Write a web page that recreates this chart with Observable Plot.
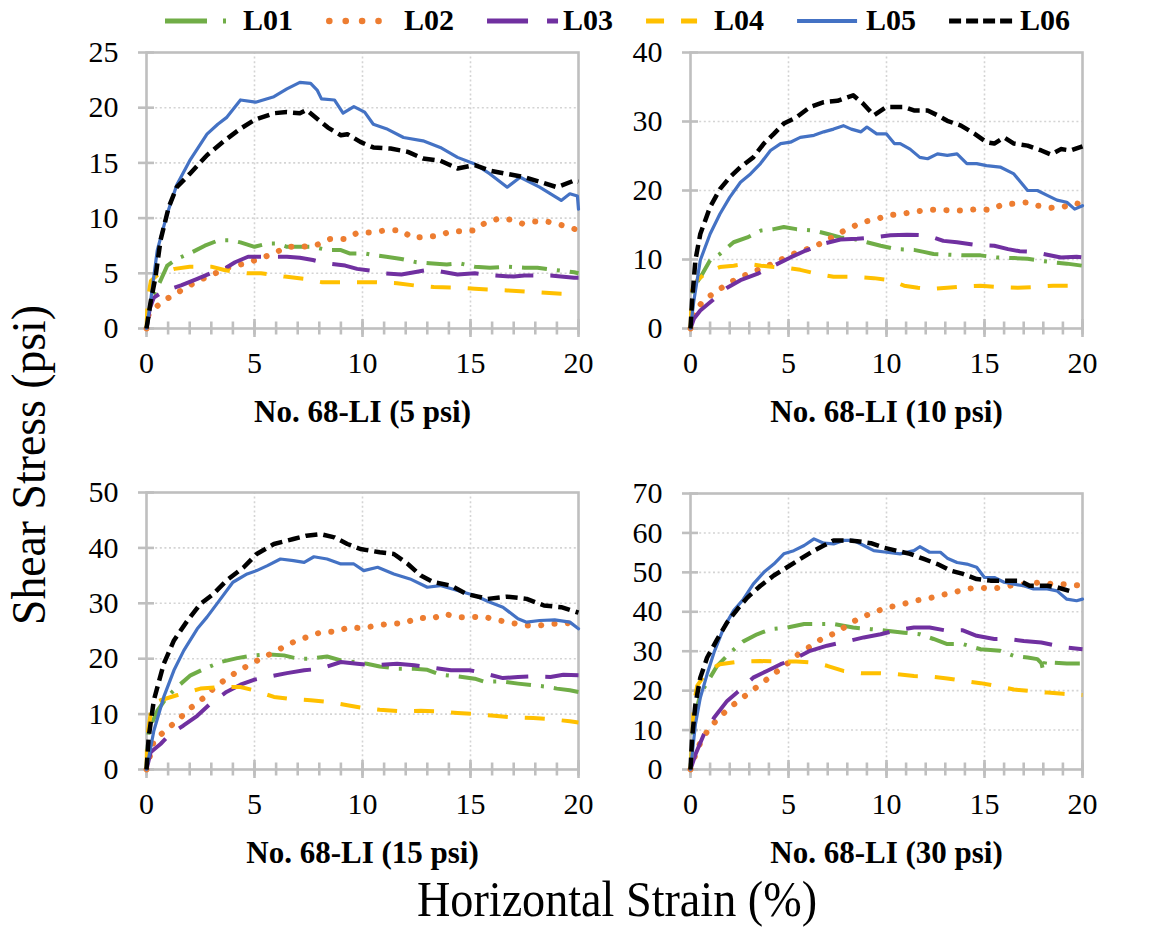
<!DOCTYPE html>
<html><head><meta charset="utf-8">
<script src="https://cdn.jsdelivr.net/npm/d3@7"></script>
<script src="https://cdn.jsdelivr.net/npm/@observablehq/plot@0.6"></script>
<style>
body{margin:0;background:#fff;}
#fig{position:relative;width:1159px;height:930px;background:#fff;overflow:hidden;}
#fig svg{position:absolute;}
</style></head><body><div id="fig"></div><script>
// ---------- data (strain %, shear stress psi) ----------
const seriesNames = ["L01","L02","L03","L04","L05","L06"];
const panelTitles = ["No. 68-LI (5 psi)","No. 68-LI (10 psi)","No. 68-LI (15 psi)","No. 68-LI (30 psi)"];
const yMaxes = [25,40,50,70];
const ySteps = [5,10,10,10];
const xTicksMajor = [0,5,10,15,20];
const xTicksMinor = [0,1,2,3,4,5,6,7,8,9,10,11,12,13,14,15,16,17,18,19,20];

// 5 psi
const P5_L01 = [[0,0],[0.2,2.5],[0.57,4.0],[0.96,5.7],[1.4,6.3],[2.0,6.8],[2.7,7.5],[3.35,8.0],[3.9,8.0],[4.35,7.8],[5.0,7.4],[5.6,7.7],[6.05,7.7],[6.5,7.4],[7.7,7.4],[8.4,7.1],[9.0,7.1],[9.4,6.8],[10.1,6.8],[10.7,6.6],[11.1,6.5],[11.8,6.3],[12.5,6.0],[13.1,5.9],[13.9,5.8],[14.5,5.9],[15.2,5.6],[15.9,5.5],[16.7,5.6],[17.5,5.5],[18.1,5.5],[18.9,5.3],[19.8,5.1],[20,5.0]];
const P5_L02 = [[0,0],[0.1,1.3],[0.7,2.4],[1.3,3.1],[2.0,3.9],[2.6,4.5],[3.3,5.1],[3.9,5.6],[4.6,5.9],[5.2,6.3],[5.9,6.8],[6.5,7.4],[7.2,7.4],[7.8,7.5],[8.5,8.1],[9.2,8.1],[9.8,8.7],[10.4,8.7],[11.1,8.9],[11.8,8.9],[12.3,8.2],[12.9,8.3],[13.5,8.4],[14.1,8.8],[14.7,8.8],[15.2,8.9],[15.7,9.6],[16.4,10.0],[17.0,9.8],[17.4,9.5],[17.9,9.7],[18.5,9.7],[19.0,9.5],[19.5,9.2],[20,8.9]];
const P5_L03 = [[0,0],[0.15,1.8],[0.34,2.8],[0.8,3.4],[1.6,3.9],[2.35,4.5],[2.96,5.0],[3.6,5.4],[4.1,6.0],[4.7,6.5],[5.3,6.5],[5.7,6.5],[6.5,6.5],[7.1,6.4],[7.7,6.2],[8.3,5.9],[9.2,5.7],[9.75,5.4],[10.5,5.2],[10.9,5.0],[11.8,4.9],[12.4,5.1],[13.0,5.3],[13.5,5.2],[14.4,4.9],[15.2,5.0],[16.1,4.8],[17.0,4.7],[17.5,4.8],[18.7,4.8],[19.8,4.6],[20,4.6]];
const P5_L04 = [[0,0],[0.05,2.5],[0.2,4.3],[0.6,5.0],[1.3,5.4],[2.0,5.6],[3.0,5.6],[3.6,5.3],[4.2,5.1],[4.7,5.0],[5.3,5.0],[6.4,4.7],[7.3,4.5],[8.1,4.2],[9.0,4.2],[9.75,4.2],[10.5,4.2],[11.6,4.1],[12.4,3.9],[13.3,3.75],[14.4,3.7],[15.2,3.6],[16.7,3.45],[17.9,3.3],[19.2,3.15],[20,3.1]];
const P5_L05 = [[0,0],[0.19,2.5],[0.5,7.1],[0.96,10.4],[1.4,13.0],[2.0,15.2],[2.8,17.6],[3.3,18.5],[3.7,19.1],[4.35,20.7],[5.05,20.5],[5.9,21.0],[6.5,21.7],[7.1,22.3],[7.6,22.2],[7.9,21.6],[8.1,20.8],[8.7,20.7],[9.1,19.5],[9.6,20.1],[10.1,19.6],[10.5,18.5],[11.1,18.1],[11.9,17.3],[12.8,17.0],[13.6,16.4],[14.4,15.5],[15.2,14.9],[15.9,14.0],[16.7,12.8],[17.3,13.7],[18.2,12.8],[19.2,11.6],[19.6,12.2],[19.95,12.0],[20,10.8]];
const P5_L06 = [[0,0],[0.2,2.5],[0.42,4.7],[0.65,8.0],[1.03,11.0],[1.4,12.8],[2.0,14.0],[2.8,15.7],[3.6,17.0],[4.35,18.1],[5.0,18.9],[5.9,19.5],[6.5,19.6],[7.1,19.5],[7.4,19.8],[7.9,19.0],[8.4,18.2],[9.0,17.5],[9.3,17.6],[9.9,16.9],[10.5,16.4],[11.3,16.3],[12.1,16.0],[12.8,15.4],[13.6,15.2],[14.4,14.5],[15.2,14.8],[15.9,14.3],[16.7,14.0],[17.5,13.7],[18.2,13.3],[19.0,12.8],[19.8,13.4],[20,13.3]];

// 10 psi
const P10_L01 = [[0,0],[0.17,6.0],[0.5,7.4],[1.0,9.9],[1.5,10.8],[2.2,12.5],[2.9,13.2],[3.6,14.2],[4.25,14.4],[4.76,14.7],[5.4,14.4],[6.3,14.2],[7.0,13.7],[7.65,13.2],[8.3,13.0],[9.0,12.5],[9.7,12.0],[10.5,11.5],[11.4,11.4],[11.9,11.1],[12.4,10.8],[13.1,10.7],[13.9,10.6],[14.8,10.6],[15.6,10.3],[16.5,10.2],[17.2,10.1],[17.9,9.8],[18.5,9.6],[19.2,9.4],[20,9.1]];
const P10_L02 = [[0,0],[0.25,2.6],[0.6,3.8],[1.2,5.2],[1.87,6.4],[2.47,7.4],[3.06,8.0],[3.74,8.9],[4.4,9.6],[5.0,10.6],[5.6,11.1],[6.2,11.8],[6.8,12.5],[7.5,13.7],[8.1,14.5],[8.76,15.4],[9.44,15.8],[10.07,16.4],[10.75,16.6],[11.4,16.9],[12.1,17.2],[12.7,17.2],[13.35,17.1],[14.0,17.1],[14.6,17.3],[15.3,17.2],[15.95,18.0],[16.6,18.1],[17.2,18.3],[17.7,17.8],[18.4,17.5],[19.0,17.6],[19.6,18.2],[20,17.9]];
const P10_L03 = [[0,0],[0.17,1.4],[0.5,2.6],[1.0,3.8],[1.87,5.9],[2.55,7.0],[3.4,7.9],[4.25,9.1],[5.1,10.3],[5.8,11.2],[6.8,12.3],[7.65,12.9],[8.5,13.0],[9.35,13.2],[10.2,13.5],[11.05,13.6],[12.1,13.5],[12.9,12.7],[13.6,12.5],[14.6,12.1],[15.5,12.0],[16.2,11.5],[16.8,11.2],[17.5,11.1],[18.2,10.7],[18.9,10.3],[19.7,10.4],[20,10.3]];
const P10_L04 = [[0,0],[0.08,5.5],[0.34,7.0],[0.85,8.2],[1.5,8.9],[2.2,9.1],[2.9,9.4],[3.6,9.1],[4.25,8.9],[4.9,8.8],[5.6,8.5],[6.5,7.9],[7.3,7.5],[8.3,7.5],[9.35,7.3],[10.2,7.0],[10.9,6.2],[11.6,5.9],[12.2,5.7],[13.1,5.9],[13.9,6.1],[14.8,6.2],[15.8,6.0],[16.7,5.9],[17.5,6.0],[18.5,6.2],[19.2,6.2],[20,6.2]];
const P10_L05 = [[0,0],[0.17,4.0],[0.5,9.9],[1.0,13.7],[1.5,16.6],[2.0,19.0],[2.55,21.2],[3.06,22.4],[3.57,23.9],[4.08,25.8],[4.6,26.8],[5.1,27.0],[5.6,27.7],[6.3,28.0],[6.8,28.5],[7.3,28.9],[7.8,29.4],[8.2,28.9],[8.7,28.5],[9.0,29.2],[9.5,28.2],[10.0,28.2],[10.4,26.8],[10.7,26.8],[11.2,26.0],[11.7,24.8],[12.1,24.6],[12.6,25.3],[13.1,25.1],[13.6,25.3],[14.1,23.9],[14.6,23.9],[15.1,23.6],[15.8,23.4],[16.5,22.4],[17.2,20.0],[17.7,20.0],[18.2,19.3],[18.7,18.6],[19.2,18.3],[19.6,17.3],[20,17.8]];
const P10_L06 = [[0,0],[0.08,4.0],[0.25,9.9],[0.5,13.7],[1.0,17.6],[1.5,20.2],[2.0,21.9],[2.55,23.4],[3.2,24.8],[3.74,26.8],[4.25,28.2],[4.76,29.7],[5.4,30.6],[6.1,32.1],[6.8,32.8],[7.5,33.0],[8.0,33.5],[8.3,33.8],[8.8,32.6],[9.35,30.9],[10.0,32.1],[10.9,32.1],[11.4,31.6],[12.1,31.6],[12.6,30.9],[13.1,30.1],[13.8,29.4],[14.5,28.2],[15.1,27.0],[15.5,26.8],[16.0,27.7],[16.5,26.8],[17.2,26.5],[17.9,25.8],[18.4,25.2],[18.9,26.0],[19.4,25.8],[20,26.4]];

// 15 psi
const P15_L01 = [[0,0],[0.1,7.0],[0.5,10.6],[0.96,13.1],[1.42,14.9],[2.04,17.0],[2.7,18.2],[3.43,19.4],[4.2,20.1],[4.97,20.6],[5.6,20.8],[6.36,20.6],[7.0,20.0],[7.6,20.0],[8.36,20.4],[9.0,19.7],[9.6,19.4],[10.2,19.1],[10.8,18.6],[11.6,18.2],[12.4,18.2],[13.0,18.0],[13.6,17.1],[14.4,16.8],[15.2,16.4],[15.6,15.9],[16.4,15.9],[17.2,15.5],[17.9,15.2],[18.4,15.0],[19.0,14.6],[19.6,14.3],[20,14.0]];
const P15_L02 = [[0,0],[0.34,5.2],[0.96,7.3],[1.5,9.1],[2.04,11.1],[2.6,12.8],[3.1,14.6],[3.7,16.4],[4.3,17.9],[4.9,19.2],[5.6,20.6],[6.2,21.8],[6.8,23.0],[7.5,24.0],[8.1,24.8],[8.75,24.9],[9.4,25.7],[9.94,25.5],[10.55,25.9],[11.2,26.3],[11.9,26.4],[12.6,27.4],[13.2,27.2],[13.8,28.1],[14.4,27.5],[15.0,27.5],[15.6,27.6],[16.2,27.0],[16.85,26.5],[17.5,26.0],[18.2,26.0],[18.8,26.3],[19.4,26.3],[20,26.9]];
const P15_L03 = [[0,0],[0.19,3.1],[0.65,4.6],[1.1,6.4],[1.7,7.9],[2.35,9.7],[2.96,11.9],[3.7,14.0],[4.35,15.3],[4.97,16.2],[5.6,16.7],[6.5,17.4],[7.3,17.9],[8.05,18.2],[9.0,19.4],[9.75,19.1],[10.5,18.8],[11.6,19.1],[12.4,18.8],[13.0,18.5],[14.1,17.9],[15.0,17.9],[15.6,17.4],[16.5,16.5],[17.2,16.7],[17.9,16.8],[18.7,16.7],[19.3,17.1],[20,17.0]];
const P15_L04 = [[0,0],[0.03,5.8],[0.26,11.9],[0.65,12.5],[1.4,13.4],[2.5,14.6],[3.4,14.9],[4.35,14.9],[4.97,14.3],[5.9,13.1],[6.5,12.8],[7.6,12.5],[8.4,12.2],[9.3,11.6],[10.06,11.1],[10.8,10.8],[11.8,10.5],[12.7,10.6],[13.5,10.5],[14.4,10.2],[15.2,10.0],[16.1,9.7],[16.9,9.4],[17.9,9.3],[18.7,9.1],[19.6,8.7],[20,8.5]];
const P15_L05 = [[0,0],[0.34,7.0],[0.8,13.1],[1.27,17.9],[1.73,21.5],[2.35,25.4],[2.8,27.5],[3.43,30.8],[4.0,33.8],[4.66,35.3],[5.1,35.9],[5.6,36.8],[6.2,38.0],[6.8,37.7],[7.3,37.4],[7.75,38.4],[8.36,38.0],[9.0,37.1],[9.6,37.1],[10.06,35.9],[10.7,36.5],[11.45,35.3],[12.2,34.4],[13.0,32.9],[13.6,33.2],[14.4,32.3],[15.2,31.4],[15.9,30.2],[16.5,29.3],[17.2,27.2],[17.6,26.6],[18.2,26.9],[18.9,27.0],[19.6,26.6],[20,25.4]];
const P15_L06 = [[0,0],[0.1,5.8],[0.34,12.5],[0.8,19.1],[1.27,23.3],[1.9,26.9],[2.5,29.9],[3.1,31.7],[3.7,34.1],[4.5,36.5],[5.1,38.9],[5.9,40.7],[6.8,41.6],[7.4,42.2],[8.05,42.5],[8.7,41.9],[9.3,40.7],[9.9,39.8],[10.8,39.2],[11.45,38.9],[12.1,37.1],[12.7,35.0],[13.3,33.8],[14.1,33.2],[14.8,31.7],[15.8,30.8],[16.7,31.2],[17.6,30.8],[18.4,29.6],[19.2,29.3],[20,28.3]];

// 30 psi
const P30_L01 = [[0,0],[0.17,12.3],[0.5,19.1],[1.0,23.3],[1.36,26.3],[2.04,29.7],[2.7,32.5],[3.4,34.3],[4.1,35.6],[4.93,36.0],[5.8,36.9],[6.6,36.9],[7.3,36.9],[8.3,36.0],[9.2,35.6],[10.0,35.2],[10.9,34.7],[11.7,34.3],[12.4,33.1],[13.1,31.8],[13.9,31.8],[14.8,30.5],[15.8,30.1],[16.5,28.8],[17.2,28.4],[17.7,28.0],[17.9,27.0],[18.0,25.0],[18.1,27.5],[18.5,27.1],[19.2,26.9],[20,26.9]];
const P30_L02 = [[0,0],[0.25,3.8],[0.5,6.8],[0.94,10.4],[1.45,13.1],[2.0,15.7],[2.6,18.0],[3.2,20.2],[3.8,22.5],[4.37,24.7],[5.0,27.1],[5.56,29.5],[6.17,31.4],[6.8,33.5],[7.45,34.7],[8.1,36.9],[8.7,38.6],[9.35,39.8],[10.0,41.1],[10.7,41.7],[11.4,42.8],[12.0,43.2],[12.7,44.1],[13.4,44.9],[14.1,45.8],[14.7,46.2],[15.3,45.8],[15.9,46.2],[16.6,46.9],[17.2,47.0],[17.9,47.5],[18.5,47.0],[19.2,47.0],[20,46.6]];
const P30_L03 = [[0,0],[0.25,3.8],[0.68,8.9],[1.2,13.1],[1.87,17.4],[2.55,20.3],[3.2,23.3],[3.9,25.0],[4.6,26.7],[5.27,28.0],[6.1,30.1],[6.97,31.4],[8.0,32.5],[8.84,33.5],[9.7,34.3],[10.5,35.3],[11.4,36.0],[12.2,36.0],[13.1,35.2],[13.9,35.3],[14.6,33.9],[15.5,33.1],[16.2,33.1],[17.0,32.6],[17.9,32.2],[18.5,31.6],[19.2,30.9],[20,30.5]];
const P30_L04 = [[0,0],[0.05,3.8],[0.17,16.5],[0.34,21.2],[0.85,25.0],[1.5,26.7],[2.55,27.4],[3.57,27.5],[4.6,27.4],[5.4,27.4],[6.3,27.1],[6.97,26.3],[7.8,25.0],[8.7,24.4],[9.7,24.4],[10.5,24.2],[11.4,23.7],[12.2,23.6],[13.1,23.1],[13.9,22.5],[14.8,21.9],[15.6,21.2],[16.5,20.3],[17.3,19.9],[18.2,19.5],[19.0,19.2],[20,18.9]];
const P30_L05 = [[0,0],[0.25,11.4],[0.5,18.2],[0.85,24.2],[1.2,29.7],[1.7,36.0],[2.2,40.3],[2.7,43.2],[3.2,47.0],[3.74,50.0],[4.25,52.1],[4.76,54.7],[5.27,55.5],[5.8,56.8],[6.3,58.5],[6.8,57.4],[7.3,57.2],[7.8,58.1],[8.3,58.1],[8.84,56.8],[9.35,55.5],[10.0,55.1],[10.7,54.7],[11.4,55.5],[11.7,56.5],[12.2,55.1],[12.75,55.1],[13.1,53.6],[13.6,52.5],[14.1,52.1],[14.6,51.3],[15.0,48.7],[15.5,48.7],[16.0,47.5],[16.5,47.0],[17.0,46.6],[17.5,45.8],[18.2,45.8],[18.7,45.3],[19.2,43.2],[19.7,42.8],[20,43.2]];
const P30_L06 = [[0,0],[0.08,8.0],[0.25,16.5],[0.5,23.3],[0.85,28.4],[1.36,33.0],[1.87,37.3],[2.4,40.7],[2.9,43.6],[3.57,46.6],[4.25,49.2],[4.93,51.3],[5.6,53.4],[6.3,55.5],[6.8,56.8],[7.3,58.1],[8.0,58.1],[8.5,57.9],[9.2,57.4],[9.9,56.2],[10.5,55.5],[11.2,54.7],[11.9,53.4],[12.6,52.1],[13.3,50.4],[13.9,49.6],[14.6,48.3],[15.3,47.9],[16.0,47.9],[16.8,47.9],[17.3,46.6],[18.2,46.6],[18.7,46.2],[19.6,44.9]];

const panelData = [
  [P5_L01,P5_L02,P5_L03,P5_L04,P5_L05,P5_L06],
  [P10_L01,P10_L02,P10_L03,P10_L04,P10_L05,P10_L06],
  [P15_L01,P15_L02,P15_L03,P15_L04,P15_L05,P15_L06],
  [P30_L01,P30_L02,P30_L03,P30_L04,P30_L05,P30_L06]
];

// ---------- styles ----------
const FONT = "'Liberation Serif', 'Times New Roman', serif";
const lineStyles = [
  {stroke:"#70ad47", strokeWidth:4,   strokeDasharray:"25,10,3,10", strokeLinecap:"butt"},
  {stroke:"#ed7d31", strokeWidth:6,   strokeDasharray:"0.1,13.3",   strokeLinecap:"round"},
  {stroke:"#7030a0", strokeWidth:4,   strokeDasharray:"38,17",      strokeLinecap:"butt"},
  {stroke:"#ffc000", strokeWidth:4,   strokeDasharray:"20,17",      strokeLinecap:"butt"},
  {stroke:"#4472c4", strokeWidth:3.2, strokeDasharray:null,         strokeLinecap:"round"},
  {stroke:"#000000", strokeWidth:4.5, strokeDasharray:"12,6",       strokeLinecap:"butt"}
];
const legendStyles = [
  {w:62, dash:"42,16,3,30", width:5, cap:"butt", gap:16},
  {w:70, dash:"0.1,16.3",   width:6.5, cap:"round", gap:8},
  {w:71, dash:"41,19,11,30",width:5, cap:"butt", gap:5},
  {w:51, dash:"18,17",      width:5, cap:"butt", gap:17},
  {w:60, dash:null,         width:4, cap:"butt", gap:9},
  {w:65, dash:"12,5",       width:5, cap:"butt", gap:6}
];
const frames = [
  {l:146,t:52,r:578,b:328},{l:690,t:52,r:1082,b:328},
  {l:146,t:492,r:578,b:769},{l:690,t:493,r:1082,b:769}
];
const GRID = "#d4d4d4", AXIS = "#bfbfbf";

const fig = document.getElementById("fig");

panelData.forEach((series, i) => {
  const f = frames[i];
  const mL = 90, mT = 30, mR = 14, mB = 100;
  const ymax = yMaxes[i], ystep = ySteps[i];
  const yTicks = d3.range(0, ymax + 0.001, ystep);
  const marks = [
    Plot.gridX(xTicksMajor.filter(v => v > 0 && v < 20), {stroke:GRID, strokeOpacity:1, strokeWidth:1.6, strokeDasharray:"2,2.6"}),
    Plot.gridY(yTicks.filter(v => v > 0 && v < ymax), {stroke:GRID, strokeOpacity:1, strokeWidth:1.6, strokeDasharray:"2,2.6"}),
    Plot.frame({stroke:AXIS, strokeWidth:2.6}),
    Plot.axisX({ticks:xTicksMinor, tickSize:13, dy:-6.5, tickFormat:() => "", stroke:AXIS, strokeWidth:2.6, label:null}),
    Plot.axisX({ticks:xTicksMajor, tickSize:18, dy:-9, tickFormat:() => "", stroke:AXIS, strokeWidth:2.6, label:null}),
    Plot.axisX({ticks:xTicksMajor, tickSize:0, tickPadding:23, fontSize:30, fontFamily:FONT, fill:"black", label:null}),
    Plot.axisY({ticks:yTicks, tickSize:16, dx:8, tickFormat:() => "", stroke:AXIS, strokeWidth:2.6, label:null}),
    Plot.axisY({ticks:yTicks, tickSize:0, tickPadding:28, fontSize:30, fontFamily:FONT, fill:"black", label:null}),
  ];
  series.forEach((pts, k) => {
    const s = lineStyles[k];
    marks.push(Plot.line(pts, {x: d => d[0], y: d => d[1], stroke: s.stroke, strokeWidth: s.strokeWidth,
      strokeDasharray: s.strokeDasharray, strokeLinecap: s.strokeLinecap, strokeLinejoin: "round"}));
  });
  marks.push(Plot.text([panelTitles[i]], {frameAnchor:"bottom", dy: 93, lineAnchor:"bottom",
    fontSize: 31, fontWeight:"bold", fontFamily: FONT, fill:"black", text: d => d}));
  const svg = Plot.plot({
    width: f.r - f.l + mL + mR, height: f.b - f.t + mT + mB,
    marginLeft: mL, marginTop: mT, marginRight: mR, marginBottom: mB,
    x: {domain:[0,20]}, y: {domain:[0,ymax]},
    style: {background: "transparent", color: "black", overflow: "visible", fontFamily: FONT},
    marks
  });
  svg.style.left = (f.l - mL) + "px";
  svg.style.top = (f.t - mT) + "px";
  svg.style.maxWidth = "none";
  svg.querySelectorAll("g, text").forEach(t => t.style.setProperty("font-family", FONT, "important"));
  fig.appendChild(svg);
});

// ---------- overlay: legend and axis titles ----------
const ov = d3.select(fig).append("svg")
  .attr("width", 1159).attr("height", 930)
  .style("left","0px").style("top","0px").style("pointer-events","none")
  .style("font-family", FONT);

let x = 165;
seriesNames.forEach((name, k) => {
  const ls = legendStyles[k];
  const s = lineStyles[k];
  const off = ls.cap === "round" ? ls.width/2 : 0;
  ov.append("line").attr("x1", x + off).attr("x2", x + ls.w - off).attr("y1", 21).attr("y2", 21)
    .attr("stroke", s.stroke).attr("stroke-width", ls.width)
    .attr("stroke-dasharray", ls.dash).attr("stroke-linecap", ls.cap);
  const tx = x + ls.w + ls.gap;
  const t = ov.append("text").attr("x", tx).attr("y", 30).attr("font-size", 30)
    .attr("font-weight","bold").attr("fill","black").text(name);
  const tw = t.node().getComputedTextLength();
  x = tx + tw + 33;
});

ov.append("text").attr("x", 617).attr("y", 916).attr("text-anchor","middle")
  .attr("font-size", 50).attr("textLength", 400).attr("lengthAdjust","spacingAndGlyphs")
  .attr("fill","black").text("Horizontal Strain (%)");
ov.append("text").attr("transform","translate(45,465) rotate(-90)").attr("text-anchor","middle")
  .attr("font-size", 49).attr("textLength", 320).attr("lengthAdjust","spacingAndGlyphs")
  .attr("fill","black").text("Shear Stress (psi)");
</script></body></html>
